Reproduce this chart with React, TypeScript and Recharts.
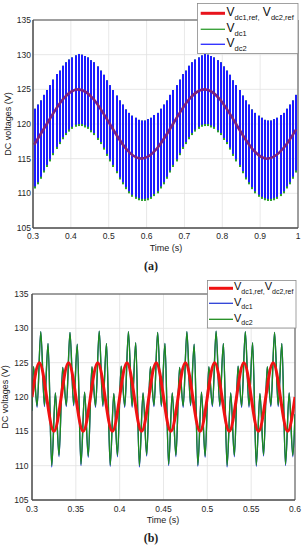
import React from 'react';
import { ComposedChart, Line, Bar, XAxis, YAxis, CartesianGrid, ReferenceArea } from 'recharts';

const FONT = '"Liberation Sans", Arial, Helvetica, sans-serif';

// ---------- (a) 0.3 s .. 1 s ----------
const xTicksA = [0.3, 0.4, 0.5, 0.6, 0.7, 0.8, 0.9, 1];
const yTicks = [105, 110, 115, 120, 125, 130, 135];

const timeA = [
  0.3030, 0.3113, 0.3197, 0.3280, 0.3363, 0.3447, 0.3530, 0.3613, 0.3697, 0.3780,
  0.3863, 0.3947, 0.4030, 0.4113, 0.4197, 0.4280, 0.4363, 0.4447, 0.4530, 0.4613,
  0.4697, 0.4780, 0.4863, 0.4947, 0.5030, 0.5113, 0.5197, 0.5280, 0.5363, 0.5447,
  0.5530, 0.5613, 0.5697, 0.5780, 0.5863, 0.5947, 0.6030, 0.6113, 0.6197, 0.6280,
  0.6363, 0.6447, 0.6530, 0.6613, 0.6697, 0.6780, 0.6863, 0.6947, 0.7030, 0.7113,
  0.7197, 0.7280, 0.7363, 0.7447, 0.7530, 0.7613, 0.7697, 0.7780, 0.7863, 0.7947,
  0.8030, 0.8113, 0.8197, 0.8280, 0.8363, 0.8447, 0.8530, 0.8613, 0.8697, 0.8780,
  0.8863, 0.8947, 0.9030, 0.9113, 0.9197, 0.9280, 0.9363, 0.9447, 0.9530, 0.9613,
  0.9697, 0.9780, 0.9863, 0.9947,
];

const vdc2HighA = [
  122.2, 122.8, 123.4, 124.2, 124.9, 125.6, 126.4, 127.2, 127.7, 128.4,
  128.9, 129.3, 129.6, 129.9, 130.1, 130.0, 129.8, 129.6, 129.2, 128.9,
  128.3, 127.7, 127.1, 126.3, 125.6, 124.9, 124.1, 123.4, 122.8, 122.1,
  121.6, 121.2, 120.9, 120.6, 120.5, 120.5, 120.7, 120.9, 121.3, 121.6,
  122.2, 122.8, 123.4, 124.2, 124.9, 125.6, 126.4, 127.2, 127.7, 128.4,
  128.9, 129.3, 129.6, 129.9, 130.1, 130.0, 129.8, 129.6, 129.2, 128.9,
  128.3, 127.7, 127.1, 126.3, 125.6, 124.9, 124.1, 123.4, 122.8, 122.1,
  121.6, 121.2, 120.9, 120.6, 120.5, 120.5, 120.7, 120.9, 121.3, 121.6,
  122.2, 122.8, 123.4, 124.2,
];

const vdc2LowA = [
  111.0, 111.6, 112.4, 113.3, 114.1, 114.9, 115.8, 116.7, 117.4, 118.1,
  118.7, 119.2, 119.6, 119.9, 120.0, 120.0, 119.8, 119.6, 119.1, 118.7,
  118.0, 117.4, 116.6, 115.7, 114.9, 114.1, 113.2, 112.3, 111.6, 110.9,
  110.3, 109.8, 109.5, 109.3, 109.2, 109.2, 109.3, 109.5, 109.9, 110.3,
  111.0, 111.6, 112.4, 113.3, 114.1, 114.9, 115.8, 116.7, 117.4, 118.1,
  118.7, 119.2, 119.6, 119.9, 120.0, 120.0, 119.8, 119.6, 119.1, 118.7,
  118.0, 117.4, 116.6, 115.7, 114.9, 114.1, 113.2, 112.3, 111.6, 110.9,
  110.3, 109.8, 109.5, 109.3, 109.2, 109.2, 109.3, 109.5, 109.9, 110.3,
  111.0, 111.6, 112.4, 113.3,
];

const vdc1LowA = [
  110.7, 111.3, 112.1, 113.0, 113.8, 114.6, 115.5, 116.4, 117.1, 117.8,
  118.4, 118.9, 119.3, 119.6, 119.7, 119.7, 119.5, 119.3, 118.8, 118.4,
  117.7, 117.1, 116.3, 115.4, 114.6, 113.8, 112.9, 112.0, 111.3, 110.6,
  110.0, 109.5, 109.2, 109.0, 108.9, 108.9, 109.0, 109.2, 109.6, 110.0,
  110.7, 111.3, 112.1, 113.0, 113.8, 114.6, 115.5, 116.4, 117.1, 117.8,
  118.4, 118.9, 119.3, 119.6, 119.7, 119.7, 119.5, 119.3, 118.8, 118.4,
  117.7, 117.1, 116.3, 115.4, 114.6, 113.8, 112.9, 112.0, 111.3, 110.6,
  110.0, 109.5, 109.2, 109.0, 108.9, 108.9, 109.0, 109.2, 109.6, 110.0,
  110.7, 111.3, 112.1, 113.0,
];

const refTimeA = [
  0.3030, 0.3363, 0.3780, 0.4197, 0.4613, 0.5030, 0.5447, 0.5863, 0.6280,
  0.6697, 0.7113, 0.7530, 0.7947, 0.8363, 0.8780, 0.9197, 0.9613, 0.9947,
];
const refA = [
  117.0, 120.0, 123.5, 125.0, 123.5, 120.0, 116.5, 115.0, 116.5,
  120.0, 123.5, 125.0, 123.5, 120.0, 116.5, 115.0, 116.5, 119.2,
];

// ---------- (b) 0.3 s .. 0.6 s ----------
const xTicksB = [0.3, 0.35, 0.4, 0.45, 0.5, 0.55, 0.6];

const timeB = [
  0.3,
  0.30167, 0.30583, 0.31, 0.31417, 0.31833, 0.3225, 0.32667, 0.33083,
  0.335, 0.33917, 0.34333, 0.3475, 0.35167, 0.35583, 0.36, 0.36417,
  0.36833, 0.3725, 0.37667, 0.38083, 0.385, 0.38917, 0.39333, 0.3975,
  0.40167, 0.40583, 0.41, 0.41417, 0.41833, 0.4225, 0.42667, 0.43083,
  0.435, 0.43917, 0.44333, 0.4475, 0.45167, 0.45583, 0.46, 0.46417,
  0.46833, 0.4725, 0.47667, 0.48083, 0.485, 0.48917, 0.49333, 0.4975,
  0.50167, 0.50583, 0.51, 0.51417, 0.51833, 0.5225, 0.52667, 0.53083,
  0.535, 0.53917, 0.54333, 0.5475, 0.55167, 0.55583, 0.56, 0.56417,
  0.56833, 0.5725, 0.57667, 0.58083, 0.585, 0.58917, 0.59333, 0.5975,
  0.6,
];

const vdc2B = [
  118.0,
  124.4, 118.7, 129.5, 118.8, 127.8, 110.0, 120.6, 111.5,
  124.3, 118.8, 129.4, 118.9, 127.7, 110.2, 120.7, 111.4,
  124.4, 118.7, 129.6, 118.8, 127.8, 110.1, 120.5, 111.5,
  124.5, 118.7, 129.5, 118.7, 127.9, 110.0, 120.6, 111.6,
  124.4, 118.8, 129.4, 118.8, 127.8, 110.2, 120.6, 111.5,
  124.3, 118.7, 129.5, 118.9, 127.7, 110.1, 120.7, 111.4,
  124.4, 118.8, 129.6, 118.8, 127.8, 110.0, 120.6, 111.5,
  124.5, 118.7, 129.5, 118.7, 127.9, 110.1, 120.5, 111.6,
  124.4, 118.8, 129.4, 118.8, 127.8, 110.2, 120.6, 111.5,
  117.5,
];

const vdc1B = [
  118.0,
  124.4, 118.5, 129.5, 118.6, 127.8, 109.8, 120.6, 111.3,
  124.3, 118.6, 129.4, 118.7, 127.7, 110.0, 120.7, 111.2,
  124.4, 118.5, 129.6, 118.6, 127.8, 109.9, 120.5, 111.3,
  124.5, 118.5, 129.5, 118.5, 127.9, 109.8, 120.6, 111.4,
  124.4, 118.6, 129.4, 118.6, 127.8, 110.0, 120.6, 111.3,
  124.3, 118.5, 129.5, 118.7, 127.7, 109.9, 120.7, 111.2,
  124.4, 118.6, 129.6, 118.6, 127.8, 109.8, 120.6, 111.3,
  124.5, 118.5, 129.5, 118.5, 127.9, 109.9, 120.5, 111.4,
  124.4, 118.6, 129.4, 118.6, 127.8, 110.0, 120.6, 111.3,
  117.5,
];

const refTimeB = [
  0.3, 0.30833, 0.31667, 0.325, 0.33333, 0.34167, 0.35, 0.35833, 0.36667, 0.375,
  0.38333, 0.39167, 0.4, 0.40833, 0.41667, 0.425, 0.43333, 0.44167, 0.45, 0.45833,
  0.46667, 0.475, 0.48333, 0.49167, 0.5, 0.50833, 0.51667, 0.525, 0.53333, 0.54167,
  0.55, 0.55833, 0.56667, 0.575, 0.58333, 0.59167, 0.6,
];
const refB = [
  120, 125, 120, 115, 120, 125, 120, 115, 120, 125,
  120, 115, 120, 125, 120, 115, 120, 125, 120, 115,
  120, 125, 120, 115, 120, 125, 120, 115, 120, 125,
  120, 115, 120, 125, 120, 115, 120,
];

// ---------- tables ----------
const rowsA = (() => {
  const map = new Map<string, any>();
  timeA.forEach((t, i) =>
    map.set(t.toFixed(4), { t, vdc1: [vdc1LowA[i], vdc2HighA[i]], vdc2: [vdc2LowA[i], vdc2HighA[i]] })
  );
  refTimeA.forEach((t, i) => {
    const k = t.toFixed(4);
    const r = map.get(k) ?? { t };
    r.vref = refA[i];
    map.set(k, r);
  });
  return [...map.values()].sort((a, b) => a.t - b.t);
})();

const rowsB = (() => {
  const map = new Map<string, any>();
  timeB.forEach((t, i) => map.set(t.toFixed(5), { t, vdc1: vdc1B[i], vdc2: vdc2B[i] }));
  refTimeB.forEach((t, i) => {
    const k = t.toFixed(5);
    const r = map.get(k) ?? { t };
    r.vref = refB[i];
    map.set(k, r);
  });
  return [...map.values()].sort((a, b) => a.t - b.t);
})();

const tickStyle = { fontSize: 8.5, fill: '#262626', fontFamily: FONT };
const GRID = '#e2e2e2';
const AXIS = '#4a4a4a';

// thin crisp bar centred on the sample time
const makeShape = (color: string) => (props: any) => {
  const { x, y, width, height } = props;
  if (x == null || y == null || !isFinite(x) || !isFinite(y)) return <g />;
  const cx = x + (width || 0) / 2;
  const top = Math.min(y, y + height);
  const h = Math.abs(height);
  return <rect x={Math.round(cx - 1)} y={top} width={2} height={h} fill={color} />;
};
const greenShape = makeShape('#2ca02c');
const blueShape = makeShape('#1c1cff');

export default function App() {
  return (
    <div style={{ position: 'absolute', left: 0, top: 0, width: 304, height: 550, background: '#fff', overflow: 'hidden' }}>
      <div style={{ position: 'absolute', left: 0, top: 0 }}>
        <ComposedChart width={304} height={250} data={rowsA} margin={{ top: 20, right: 6, left: 0, bottom: 0 }}>
          <CartesianGrid stroke={GRID} strokeWidth={0.8} />
          <XAxis
            dataKey="t" type="number" domain={[0.3, 1]} ticks={xTicksA} interval={0}
            allowDataOverflow height={22} tickLine={false} tickSize={0} tickMargin={5}
            tick={tickStyle} stroke={AXIS} tickFormatter={(v: number) => String(v)}
          />
          <XAxis xAxisId="b" dataKey="t" type="number" domain={[0.3, 1]} allowDataOverflow hide />
          <YAxis
            type="number" domain={[105, 135]} ticks={yTicks} interval={0} allowDataOverflow
            width={33} tickLine={false} tickSize={0} tickMargin={2} tick={tickStyle} stroke={AXIS}
          />
          <ReferenceArea x1={0.3} x2={1} y1={105} y2={135} fill="none" stroke={AXIS} strokeWidth={1} />
          <Bar dataKey="vdc1" fill="#2ca02c" barSize={2} shape={greenShape} isAnimationActive={false} />
          <Bar dataKey="vdc2" xAxisId="b" fill="#1c1cff" barSize={2} shape={blueShape} isAnimationActive={false} />
          <Line
            dataKey="vref" type="natural" stroke="#7a2280" strokeWidth={2.6} dot={false}
            activeDot={false} connectNulls isAnimationActive={false}
          />
        </ComposedChart>
      </div>
      <div style={{ position: 'absolute', left: 0, top: 270 }}>
        <ComposedChart width={304} height={252} data={rowsB} margin={{ top: 24, right: 9, left: 0, bottom: 0 }}>
          <CartesianGrid stroke={GRID} strokeWidth={0.8} />
          <XAxis
            dataKey="t" type="number" domain={[0.3, 0.6]} ticks={xTicksB} interval={0}
            allowDataOverflow height={22} tickLine={false} tickSize={0} tickMargin={6}
            tick={tickStyle} stroke={AXIS} tickFormatter={(v: number) => String(v)}
          />
          <YAxis
            type="number" domain={[105, 135]} ticks={yTicks} interval={0} allowDataOverflow
            width={32} tickLine={false} tickSize={0} tickMargin={3.5} tick={tickStyle} stroke={AXIS}
          />
          <ReferenceArea x1={0.3} x2={0.6} y1={105} y2={135} fill="none" stroke={AXIS} strokeWidth={1} />
          <Line dataKey="vdc1" type="monotone" stroke="#1f35d8" strokeWidth={1.3} dot={false}
            activeDot={false} connectNulls isAnimationActive={false} />
          <Line dataKey="vdc2" type="monotone" stroke="#1e8a1e" strokeWidth={1.4} dot={false}
            activeDot={false} connectNulls isAnimationActive={false} />
          <Line dataKey="vref" type="natural" stroke="#f01212" strokeWidth={3} dot={false}
            activeDot={false} connectNulls isAnimationActive={false} />
        </ComposedChart>
      </div>

      <svg width={304} height={550} style={{ position: 'absolute', left: 0, top: 0, pointerEvents: 'none' }}>
        <text x={166} y={248} textAnchor="middle" dominantBaseline="central" fontSize={9} fontFamily={FONT} fill="#222">Time (s)</text>
        <text transform="translate(7.5,124) rotate(-90)" textAnchor="middle" dominantBaseline="central" fontSize={9} fontFamily={FONT} fill="#222">DC voltages (V)</text>
        <text x={151} y={266} textAnchor="middle" dominantBaseline="central" fontSize={12} fontWeight="bold" fontFamily='"Liberation Serif", "DejaVu Serif", serif' fill="#222">(a)</text>

        <text x={163} y={520} textAnchor="middle" dominantBaseline="central" fontSize={9} fontFamily={FONT} fill="#222">Time (s)</text>
        <text transform="translate(5,397) rotate(-90)" textAnchor="middle" dominantBaseline="central" fontSize={9} fontFamily={FONT} fill="#222">DC voltages (V)</text>
        <text x={151} y={537.5} textAnchor="middle" dominantBaseline="central" fontSize={12} fontWeight="bold" fontFamily='"Liberation Serif", "DejaVu Serif", serif' fill="#222">(b)</text>

        <rect x={197.5} y={3.5} width={100.5} height={50} fill="#fff" stroke="#8a8a8a" strokeWidth={0.8} />
        <line x1={200.7} x2={225} y1={13.3} y2={13.3} stroke="#e8141c" strokeWidth={3} />
        <line x1={200.7} x2={225} y1={29.3} y2={29.3} stroke="#3da33d" strokeWidth={1.4} />
        <line x1={200.7} x2={225} y1={44.3} y2={44.3} stroke="#3535ff" strokeWidth={1.4} />
        <text x={226.5} y={16} fontFamily={FONT} fill="#111" fontSize={12}>
          V<tspan fontSize={7.5} dy={3.6}>dc1,ref,</tspan><tspan fontSize={12} dy={-3.6}> V</tspan><tspan fontSize={7.5} dy={3.6}>dc2,ref</tspan>
        </text>
        <text x={226.5} y={31.8} fontFamily={FONT} fill="#111" fontSize={12}>
          V<tspan fontSize={7.5} dy={3.8}>dc1</tspan>
        </text>
        <text x={226.5} y={46.8} fontFamily={FONT} fill="#111" fontSize={12}>
          V<tspan fontSize={7.5} dy={3.8}>dc2</tspan>
        </text>

        <rect x={207.5} y={280.5} width={88.5} height={47.5} fill="#fff" stroke="#8a8a8a" strokeWidth={0.8} />
        <line x1={209} x2={233} y1={288.3} y2={288.3} stroke="#f01212" strokeWidth={3} />
        <line x1={209} x2={233} y1={303.3} y2={303.3} stroke="#2b3fd6" strokeWidth={1.3} />
        <line x1={209} x2={233} y1={319.3} y2={319.3} stroke="#1e8c1e" strokeWidth={1.3} />
        <text x={234} y={290.3} fontFamily={FONT} fill="#111" fontSize={11}>
          V<tspan fontSize={7} dy={3.7}>dc1,ref,</tspan><tspan fontSize={11} dy={-3.7}>V</tspan><tspan fontSize={7} dy={3.7}>dc2,ref</tspan>
        </text>
        <text x={234} y={305.5} fontFamily={FONT} fill="#111" fontSize={11}>
          V<tspan fontSize={7} dy={3.7}>dc1</tspan>
        </text>
        <text x={234} y={321.5} fontFamily={FONT} fill="#111" fontSize={11}>
          V<tspan fontSize={7} dy={3.7}>dc2</tspan>
        </text>
      </svg>
    </div>
  );
}
